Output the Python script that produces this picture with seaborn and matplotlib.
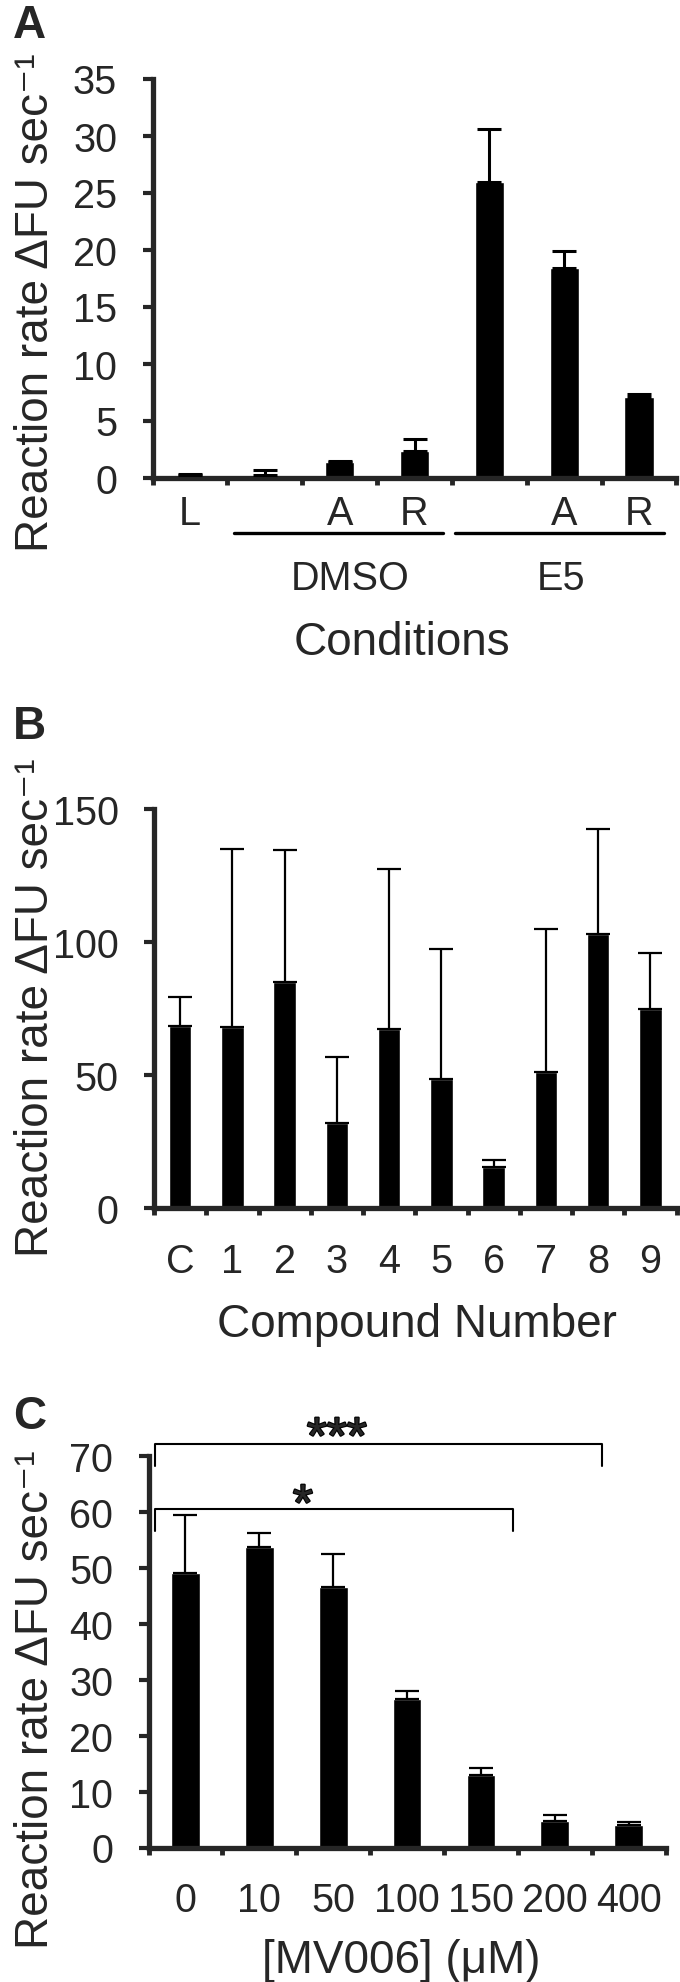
import numpy as np
import pandas as pd
import matplotlib
matplotlib.use('Agg')
import matplotlib.pyplot as plt
import matplotlib.patheffects as pe
import seaborn as sns

# panel A data
a_names = ['L', 'DMSO', 'DMSO A', 'DMSO R', 'E5', 'E5 A', 'E5 R']
a_ticks = ['L', '', 'A', 'R', '', 'A', 'R']
a_vals = [0.25, 0.2, 1.35, 2.3, 25.9, 18.4, 7.1]
a_err = [0.05, 0.45, 0.1, 1.1, 4.7, 1.5, 0.2]

# panel B data
b_names = ['C', '1', '2', '3', '4', '5', '6', '7', '8', '9']
b_vals = [68.3, 68.0, 84.9, 32.0, 67.3, 48.3, 15.5, 51.2, 102.8, 74.7]
b_err = [10.9, 66.7, 49.5, 24.6, 60.2, 49.0, 2.4, 53.6, 39.5, 21.0]

# panel C data
c_names = ['0', '10', '50', '100', '150', '200', '400']
c_vals = [49.1, 53.7, 46.7, 26.6, 12.9, 4.8, 4.0]
c_err = [10.5, 2.6, 5.8, 1.4, 1.3, 1.1, 0.5]

sns.set_style('ticks')
plt.rcParams['font.family'] = ['Liberation Sans', 'DejaVu Sans']

W, H = 680, 1983
fig = plt.figure(figsize=(W / 100, H / 100), dpi=100)
TICK_FS = 28.5


def px_axes(left, top, right, bottom):
    return fig.add_axes([left / W, 1 - bottom / H, (right - left) / W, (bottom - top) / H])


def draw_panel(ax, names, vals, err, ticklabels, ymax, ystep, width, label_y, ebw):
    n = len(names)
    df = pd.DataFrame({'cond': names, 'rate': vals})
    sns.barplot(data=df, x='cond', y='rate', order=names, color='black',
                saturation=1, width=width, errorbar=None, ax=ax, zorder=1)
    ax.errorbar(np.arange(n), vals, yerr=[np.zeros(n), err], fmt='none',
                ecolor='black', elinewidth=ebw, capsize=8.3, capthick=ebw, zorder=3)
    ax.set_xlim(-0.5, n - 0.5)
    ax.set_ylim(0, ymax)
    ax.set_yticks(np.arange(0, ymax + 1, ystep))
    # ticks at the bar boundaries, labels under the bars
    ax.set_xticks(np.arange(n + 1) - 0.5)
    ax.set_xticklabels([])
    tr = ax.get_xaxis_transform()
    for i, lab in enumerate(ticklabels):
        ax.text(i, label_y, lab, transform=tr, fontsize=TICK_FS, ha='center', va='baseline')
    ax.tick_params(axis='x', which='major', length=5, width=3.5, direction='out')
    ax.tick_params(axis='y', length=7.5, width=3, direction='out', pad=18, labelsize=TICK_FS)
    ax.set_xlabel('')
    ax.set_ylabel('')
    sns.despine(ax=ax)
    for s in ['left', 'bottom']:
        ax.spines[s].set_linewidth(3.8)


def frac_y(ax_top, ax_bot, py):
    # pixel row -> axes fraction
    return (ax_bot - py) / (ax_bot - ax_top)


ylab = 'Reaction rate ΔFU sec⁻¹'

# A
A_box = (152.6, 79.5, 676.5, 478.5)
axA = px_axes(*A_box)
draw_panel(axA, a_names, a_vals, a_err, a_ticks, 35, 5, 0.39,
           frac_y(A_box[1], A_box[3], 525), 2.2)
tr = axA.get_xaxis_transform()
for x0, x1, lab, xc in [(0.59, 3.38, 'DMSO', 2.14), (3.54, 6.33, 'E5', 4.96)]:
    axA.plot([x0, x1], [-0.14, -0.14], color='black', lw=2.4, transform=tr, clip_on=False)
    axA.text(xc, frac_y(A_box[1], A_box[3], 590), lab, fontsize=TICK_FS,
             ha='center', va='baseline', transform=tr)
fig.text(401.5 / W, 1 - 655 / H, 'Conditions', fontsize=33, ha='center', va='baseline')
fig.text(36 / W, 1 - 303 / H, ylab, fontsize=33, rotation=90, ha='center', va='center')
fig.text(13 / W, 1 - 38 / H, 'A', fontsize=33, fontweight='bold', va='baseline')

# B
B_box = (154, 809.6, 676.5, 1209)
axB = px_axes(*B_box)
draw_panel(axB, b_names, b_vals, b_err, b_names, 150, 50, 0.43,
           frac_y(B_box[1], B_box[3], 1273), 1.6)
fig.text(417 / W, 1 - 1337 / H, 'Compound Number', fontsize=33, ha='center', va='baseline')
fig.text(36 / W, 1 - 1008 / H, ylab, fontsize=33, rotation=90, ha='center', va='center')
fig.text(13 / W, 1 - 739 / H, 'B', fontsize=33, fontweight='bold', va='baseline')

# C
C_box = (148.5, 1457.4, 665.6, 1848.5)
axC = px_axes(*C_box)
draw_panel(axC, c_names, c_vals, c_err, c_names, 70, 10, 0.39,
           frac_y(C_box[1], C_box[3], 1912), 1.6)
for xr, ytop, ydrop, star, xs, ys in [(5.635, 72.3, 68.3, '***', 2.05, 70.6),
                                      (4.44, 60.6, 56.7, '*', 1.59, 58.6)]:
    axC.plot([-0.41, -0.41, xr, xr], [ydrop, ytop, ytop, ydrop], color='black',
             lw=1.5, solid_joinstyle='round', clip_on=False)
    axC.text(xs, ys, star, fontsize=37, ha='center', va='baseline',
             path_effects=[pe.withStroke(linewidth=1.6, foreground='black')])
fig.text(401 / W, 1 - 1973 / H, '[MV006] (μM)', fontsize=33, ha='center', va='baseline')
fig.text(36 / W, 1 - 1700 / H, ylab, fontsize=33, rotation=90, ha='center', va='center')
fig.text(13 / W, 1 - 1429 / H, 'C', fontsize=33, fontweight='bold', va='baseline')

fig.savefig('out.png', dpi=100)
